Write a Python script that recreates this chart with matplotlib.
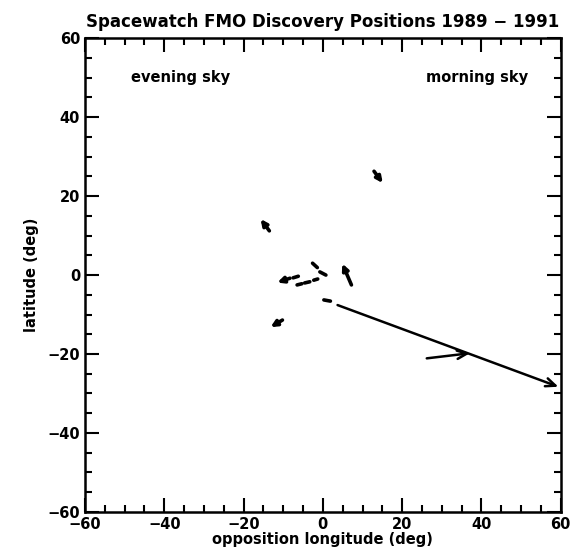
import matplotlib
matplotlib.use("Agg")
import matplotlib.pyplot as plt
from matplotlib.ticker import MultipleLocator

# motion vectors with solid heads: tail (lon, lat) -> head (lon, lat)
tail_lon = [12.9, -13.5, 7.2, -8.3, -10.2]
tail_lat = [26.3, 11.2, -2.5, -0.8, -11.4]
head_lon = [15.1, -15.7, 4.9, -11.5, -13.2]
head_lat = [23.3, 14.2, 2.9, -1.9, -13.2]

# long vectors with open heads
long_tail_lon = [3.7, 26.2]
long_tail_lat = [-7.6, -21.1]
long_head_lon = [59.4, 37.1]
long_head_lat = [-28.3, -19.8]

# short trails without heads (start lon, start lat, end lon, end lat)
seg_x0 = [-2.6, -0.76, -7.5, -6.5, -4.6, -2.3, 0.25]
seg_y0 = [3.0, 0.8, -0.7, -2.5, -2.0, -1.3, -6.3]
seg_x1 = [-1.4, 0.76, -6.2, -5.3, -3.3, -1.3, 1.9]
seg_y1 = [1.9, 0.0, -0.3, -2.2, -1.7, -1.0, -6.6]

plt.rcParams["font.family"] = "DejaVu Sans"
plt.rcParams["font.weight"] = "bold"

fig = plt.figure(figsize=(5.74, 5.54), dpi=100)
ax = fig.add_axes([0.148, 0.076, 0.829, 0.855])

for x0, y0, x1, y1 in zip(tail_lon, tail_lat, head_lon, head_lat):
    ax.annotate("", xy=(x1, y1), xytext=(x0, y0),
                arrowprops=dict(arrowstyle="-|>,head_length=0.35,head_width=0.17",
                                color="black", lw=2.6, shrinkA=0, shrinkB=0))

for x0, y0, x1, y1 in zip(long_tail_lon, long_tail_lat, long_head_lon, long_head_lat):
    ax.annotate("", xy=(x1, y1), xytext=(x0, y0),
                arrowprops=dict(arrowstyle="->,head_length=0.7,head_width=0.3",
                                color="black", lw=1.8, shrinkA=0, shrinkB=0))

for x0, y0, x1, y1 in zip(seg_x0, seg_y0, seg_x1, seg_y1):
    ax.plot([x0, x1], [y0, y1], color="black", lw=2.6, solid_capstyle="round")

ax.text(-36, 50, "evening sky", ha="center", va="center", fontsize=10.5, fontweight="bold")
ax.text(39, 50, "morning sky", ha="center", va="center", fontsize=10.5, fontweight="bold")

ax.set_xlim(-60, 60)
ax.set_ylim(-60, 60)
ax.xaxis.set_major_locator(MultipleLocator(20))
ax.xaxis.set_minor_locator(MultipleLocator(5))
ax.yaxis.set_major_locator(MultipleLocator(20))
ax.yaxis.set_minor_locator(MultipleLocator(5))
ax.tick_params(which="both", direction="in", top=True, right=True, width=1.5,
               labelsize=10.5)
ax.tick_params(which="major", length=10)
ax.tick_params(which="minor", length=5)
for s in ax.spines.values():
    s.set_linewidth(1.8)

ax.set_xlabel("opposition longitude (deg)", fontsize=10.5, fontweight="bold", labelpad=0)
ax.set_ylabel("latitude (deg)", fontsize=10.5, fontweight="bold", labelpad=6)
ax.set_title("Spacewatch FMO Discovery Positions 1989 \u2212 1991", fontsize=12,
             fontweight="bold", pad=8)

fig.savefig("out.png", dpi=100)
